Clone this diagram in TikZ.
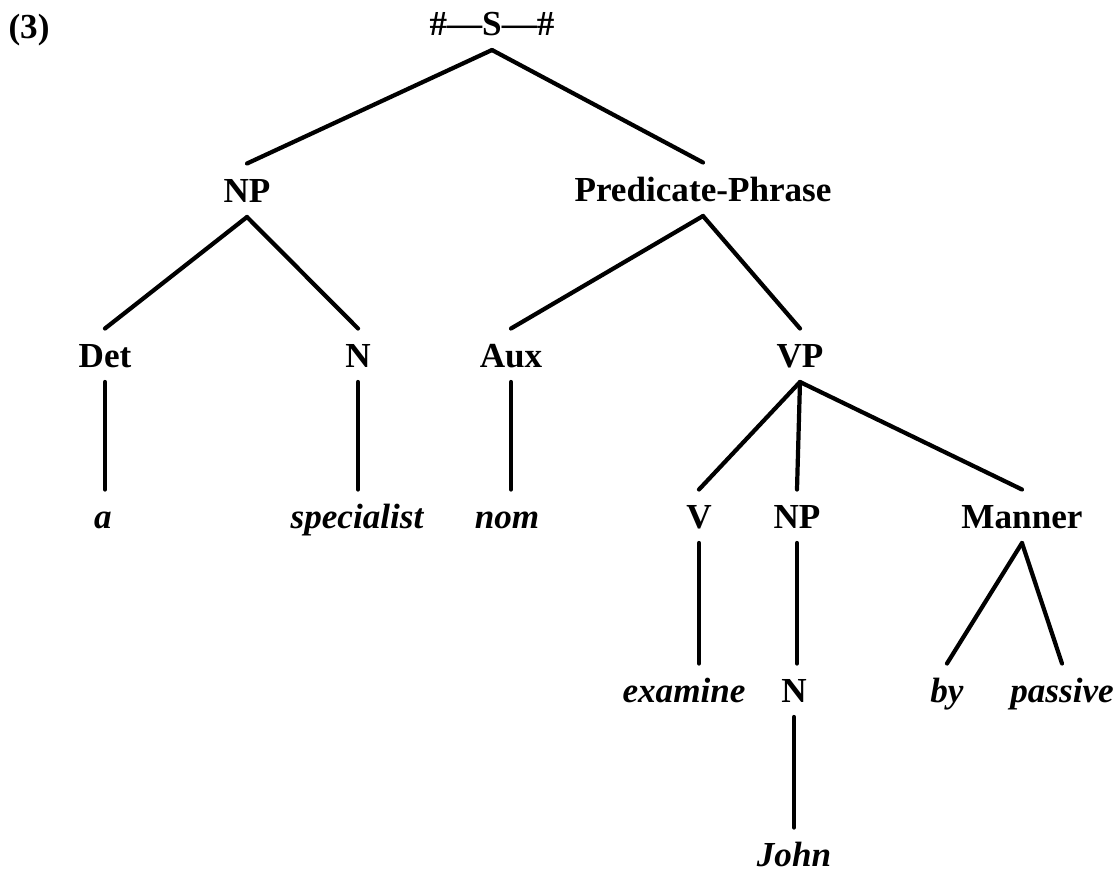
\documentclass[tikz,border=0pt]{standalone}
\usepackage{fontspec}
\setmainfont{Liberation Serif}
\usepackage{tikz}
\usetikzlibrary{calc,positioning}

\begin{document}
\begin{tikzpicture}[
	%	style def
    x=0.02cm, y=-0.02cm,
    tree line/.style={line width=2.4pt, line cap=round},
    every node/.style={color=black, inner sep=0pt, outer xsep=0pt, outer ysep=0.3cm,
        text height=0.47cm, text depth=0pt, anchor=base,
        font=\fontsize{20}{24}\selectfont\bfseries},
    word/.style={font=\fontsize{20}{24}\selectfont\bfseries\itshape}
    ]
    \useasboundingbox (0,0) rectangle (1117,872);

	% example number
	\node (num) at (29,38) {(3)};

	% categories
	\node (S) at (492,35) {\#---S---\#};
	\node (NP1) at (247,202) {NP};
	\node (PP) at (703,201) {Predicate-Phrase};
	\node (Det) at (105,367) {Det};
	\node (N1) at (358,367) {N};
	\node (Aux) at (511,367) {Aux};
	\node (VP) at (800,367) {VP};
	\node (V) at (699,528) {V};
	\node (NP2) at (797,528) {NP};
	\node (Manner) at (1022,528) {Manner};
	\node (N2) at (794,702) {N};

	% words
	\node[word] (a) at (103,528) {a};
	\node[word] (spec) at (357,528) {specialist};
	\node[word] (nom) at (507,528) {nom};
	\node[word] (exam) at (684,702) {examine};
	\node[word] (by) at (947,702) {by};
	\node[word] (pass) at (1062,702) {passive};
	\node[word] (John) at (794,866) {John};

	% branches
	\draw[tree line] (S.south) -- (NP1.north);
	\draw[tree line] (S.south) -- (PP.north);
	\draw[tree line] (NP1.south) -- (Det.north);
	\draw[tree line] (NP1.south) -- (N1.north);
	\draw[tree line] (PP.south) -- (Aux.north);
	\draw[tree line] (PP.south) -- (VP.north);
	\draw[tree line] (VP.south) -- (V.north);
	\draw[tree line] (VP.south) -- (NP2.north);
	\draw[tree line] (VP.south) -- (Manner.north);
	\draw[tree line] (Manner.south) -- (by.north);
	\draw[tree line] (Manner.south) -- (pass.north);

	% unary branches (straight down)
	\draw[tree line] (Det.south) -- (Det.south |- a.north);
	\draw[tree line] (N1.south) -- (N1.south |- spec.north);
	\draw[tree line] (Aux.south) -- (Aux.south |- nom.north);
	\draw[tree line] (V.south) -- (V.south |- exam.north);
	\draw[tree line] (NP2.south) -- (NP2.south |- N2.north);
	\draw[tree line] (N2.south) -- (N2.south |- John.north);
\end{tikzpicture}
\end{document}
